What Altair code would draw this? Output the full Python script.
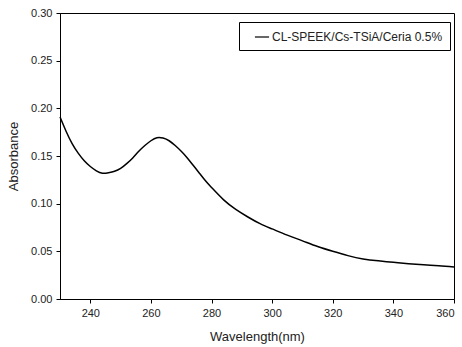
import altair as alt
import pandas as pd

wavelength = [230, 232, 234, 236, 238, 240, 242, 244, 246, 248, 250, 252, 254, 256, 258,
              260, 262, 264, 266, 268, 270, 272, 274, 276, 278, 280, 284, 288, 292, 296,
              300, 305, 310, 315, 320, 325, 330, 335, 340, 345, 350, 355, 360]
absorbance = [0.191, 0.176, 0.163, 0.153, 0.145, 0.139, 0.1345, 0.132, 0.1325, 0.134,
              0.137, 0.142, 0.148, 0.155, 0.161, 0.166, 0.1692, 0.1688, 0.166, 0.161,
              0.155, 0.148, 0.140, 0.132, 0.124, 0.117, 0.104, 0.094, 0.086, 0.079,
              0.0735, 0.067, 0.061, 0.055, 0.050, 0.0455, 0.042, 0.040, 0.0385, 0.037,
              0.0358, 0.0348, 0.0335]
series_name = "CL-SPEEK/Cs-TSiA/Ceria 0.5%"

df = pd.DataFrame({"Wavelength": wavelength, "Absorbance": absorbance, "Series": series_name})

FONT = "Liberation Sans"

chart = alt.Chart(df).mark_line(strokeWidth=1.5, interpolate="natural").encode(
    x=alt.X("Wavelength:Q", scale=alt.Scale(domain=[230, 360], nice=False, zero=False),
            axis=alt.Axis(title="Wavelength(nm)", values=[240, 260, 280, 300, 320, 340, 360],
                          grid=False)),
    y=alt.Y("Absorbance:Q", scale=alt.Scale(domain=[0, 0.30], nice=False),
            axis=alt.Axis(title="Absorbance", values=[0, 0.05, 0.10, 0.15, 0.20, 0.25, 0.30],
                          format=".2f", grid=False)),
    color=alt.Color("Series:N", scale=alt.Scale(range=["black"]),
                    legend=alt.Legend(title=None, orient="none", legendX=179, legendY=9,
                                      symbolType="stroke", symbolSize=200, symbolStrokeWidth=1.2,
                                      symbolOffset=8,
                                      labelFontSize=12, labelFont=FONT, labelColor="#222",
                                      labelLimit=0, strokeColor="black", padding=7,
                                      labelOffset=2, fillColor="white")),
).properties(
    width=394, height=286,
    padding={"left": 60, "top": 13, "right": 8, "bottom": 48},
    autosize="none",
).configure_view(
    stroke="black", strokeWidth=1
).configure_axis(
    domainColor="black", tickColor="black", tickSize=4, labelFont=FONT, labelFontSize=11,
    labelColor="#222", titleFont=FONT, titleFontSize=13, titleFontWeight="normal",
    titleColor="#222", labelPadding=4,
).configure_axisX(titlePadding=12).configure_axisY(titlePadding=10)

chart.save("out.html", embed_options={"renderer": "svg", "actions": False})
